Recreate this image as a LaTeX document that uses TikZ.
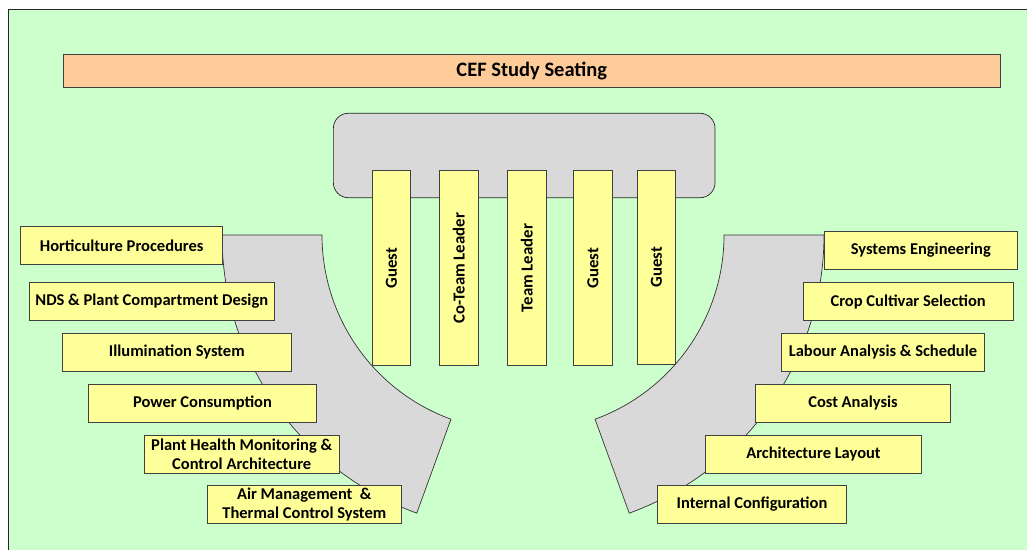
\documentclass[tikz,border=0pt]{standalone}
\usepackage{fontspec}
\setmainfont{Carlito}
\usetikzlibrary{calc}
\begin{document}
\begin{tikzpicture}[x=1pt,y=-1pt,
  lab/.style={draw=black!75,line width=0.9pt,fill=yellowbox,inner sep=0pt,
    minimum height=38pt,font=\bfseries\fontsize{16.5}{19}\selectfont,align=center},
  seat/.style={draw=black!75,line width=0.9pt,fill=yellowbox,inner sep=0pt,
    minimum width=38.5pt,minimum height=194.5pt},
  seattxt/.style={rotate=90,font=\bfseries\fontsize{16.8}{19}\selectfont},
  sector/.style={draw=black!80,line width=0.7pt,fill=graysector}]
\definecolor{bggreen}{HTML}{CCFFCC}
\definecolor{yellowbox}{HTML}{FFFF99}
\definecolor{peach}{HTML}{FFCC99}
\definecolor{graysector}{HTML}{D9D9D9}
\clip (0,0) rectangle (1027,549);
\fill[white] (0,0) rectangle (1027,549);
\draw[fill=bggreen,draw=black!85,line width=1pt] (8,9) rectangle (1040,560);
% title
\node[draw=black!75,line width=0.9pt,fill=peach,minimum width=937.7pt,minimum height=33.7pt,
  inner sep=0pt,font=\bfseries\fontsize{20.5}{22}\selectfont] (title) at (531.8,70.9) {CEF Study Seating};
% table
\node[draw=black!85,line width=0.7pt,fill=graysector,rounded corners=15pt,minimum width=381.7pt,
  minimum height=84.4pt,inner sep=0pt] (table) at (524.2,155.5) {};
% sectors
\draw[sector] (222,235) arc[start angle=180,end angle=110,radius=296]
  -- ($(518,235)+(110:196)$) arc[start angle=110,end angle=180,radius=196] -- cycle;
\draw[sector] (724,235) arc[start angle=0,end angle=70,radius=196]
  -- ($(528,235)+(70:296)$) arc[start angle=70,end angle=0,radius=296] -- cycle;
% seats
\node[seat] (s1) at (391.5,268) {};
\node[seat] (s2) at (458.7,268) {};
\node[seat] (s3) at (526.8,268) {};
\node[seat] (s4) at (592.8,268) {};
\node[seat] (s5) at (656.5,267.3) {};
\node[seattxt] at (s1) {Guest};
\node[seattxt] at (s2) {Co-Team Leader};
\node[seattxt] at (s3) {Team Leader};
\node[seattxt] at (s4) {Guest};
\node[seattxt] at (s5) {Guest};
% left labels
\node[lab,minimum width=202pt] (hort) at (121.7,245.5) {Horticulture Procedures};
\node[lab,minimum width=245pt] (nds) at (151.8,301.5) {NDS \& Plant Compartment Design};
\node[lab,minimum width=228.3pt] (illum) at (176.8,352.2) {Illumination System};
\node[lab,minimum width=228.4pt] (power) at (202.5,403) {Power Consumption};
\node[lab,minimum width=194.7pt] (plant) at (241.7,454.2) {Plant Health Monitoring \&\\Control Architecture};
\node[lab,minimum width=194.7pt] (air) at (304.3,504.5) {Air Management~ \&\\Thermal Control System};
% right labels
\node[lab,minimum width=193.7pt] (sys) at (920.8,250.3) {Systems Engineering};
\node[lab,minimum width=210.3pt] (crop) at (908.2,301.7) {Crop Cultivar Selection};
\node[lab,minimum width=202.6pt] (labour) at (883,352.3) {Labour Analysis \& Schedule};
\node[lab,minimum width=194.6pt] (cost) at (853,403.2) {Cost Analysis};
\node[lab,minimum width=215.6pt] (arch) at (813.5,454.3) {Architecture Layout};
\node[lab,minimum width=189.4pt] (int) at (752,504.5) {Internal Configuration};
\end{tikzpicture}
\end{document}
